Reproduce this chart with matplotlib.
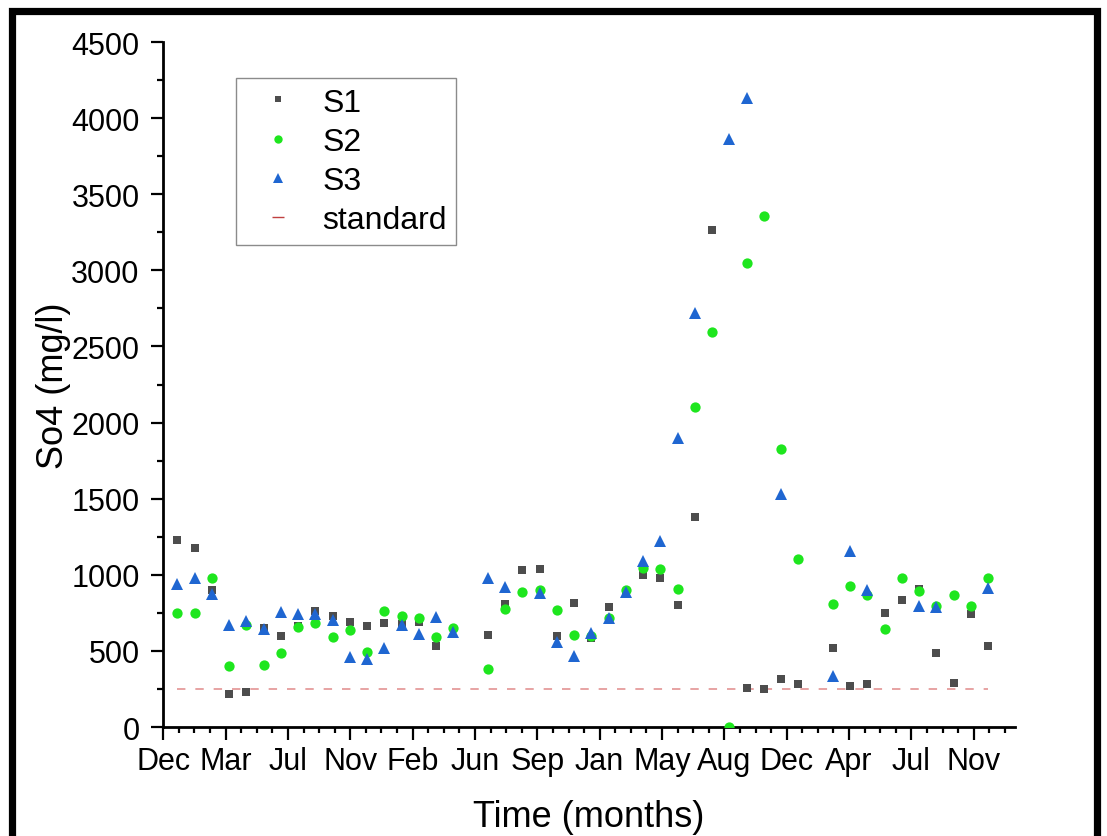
import numpy as np
import matplotlib
matplotlib.use('Agg')
import matplotlib.pyplot as plt
from matplotlib.lines import Line2D
from matplotlib.patches import Rectangle

plt.rcParams['font.family'] = ['Liberation Sans', 'DejaVu Sans']

nan = np.nan
# monthly samples, index 0 = first sample (Dec); nan = no sample / not visible
S1 = [1228, 1176, 898, 217, 228, 650, 600, 666, 764, 727, 688, 664, 681, 677, 688, 534,
      nan, nan, 604, 808, 1031, 1040, 596, 812, 585, 786, 885, 1001, 979, 800, 1380, 3263,
      nan, 256, 250, 315, 280, nan, 517, 267, 280, 751, 834, 907, 488, 291, 742, 532]
S2 = [747, 751, 979, 401, 672, 405, 484, 655, 685, 589, 639, 491, 760, 731, 714, 589,
      648, nan, 379, 777, 885, 902, 771, 602, 595, 715, 900, 1043, 1038, 907, 2105, 2593,
      0, 3050, 3357, 1824, 1104, nan, 810, 928, 867, 644, 977, 896, 797, 867, 797, 979]
S3 = [939, 979, 874, 670, 698, 644, 753, 740, 740, 703, 458, 447, 517, 670, 611, 720,
      626, nan, 979, 918, nan, 878, 556, 469, 617, 718, 885, 1093, 1222, 1897, 2720, nan,
      3863, 4130, nan, 1533, nan, nan, 337, 1158, 900, nan, nan, 797, 786, nan, nan, 911]
standard = 250
tick_labels = ['Dec', 'Mar', 'Jul', 'Nov', 'Feb', 'Jun', 'Sep', 'Jan', 'May', 'Aug',
               'Dec', 'Apr', 'Jul', 'Nov']

months = np.arange(len(S1))
tick_step = 110 / 30.44          # axis ticks every 110 days
tick0 = -0.81
xmax = 48.56
major = tick0 + tick_step * np.arange(len(tick_labels))
minor = tick0 + tick_step / 4 * np.arange(4 * len(tick_labels) + 3)
minor = minor[minor <= xmax]

fig = plt.figure(figsize=(11.07, 8.37), dpi=100)
ax = fig.add_axes([0.1475, 0.1302, 0.7694, 0.8184])

ax.plot(months, [standard] * len(months), color='#e08a8a', lw=1.1,
        dashes=(5.5, 6.5), zorder=1)
ax.plot(months, S1, 's', color='#4d4d4d', ms=6.4, mew=0, zorder=2)
ax.plot(months, S2, 'o', color='#1ee61e', ms=7.4, mew=0, zorder=3)
ax.plot(months, S3, '^', color='#1f66d1', ms=8.5, mew=0, zorder=4)

ax.set_xticks(major)
ax.set_xticklabels(tick_labels)
ax.set_xticks(minor, minor=True)
ax.set_yticks(np.arange(0, 4501, 500))
ax.set_yticks(np.arange(250, 4500, 500), minor=True)
ax.set_xlim(tick0, xmax)
ax.set_ylim(0, 4500)

for s in ['top', 'right']:
    ax.spines[s].set_visible(False)
for s in ['left', 'bottom']:
    ax.spines[s].set_linewidth(2)
ax.tick_params(which='major', direction='out', length=9, width=1.6,
               labelsize=22, pad=5)
ax.tick_params(which='minor', direction='out', length=4.5, width=1.6)
ax.tick_params(axis='y', which='major', pad=8)

ax.set_xlabel('Time (months)', fontsize=26, labelpad=16)
ax.set_ylabel('So4 (mg/l)', fontsize=26, labelpad=0)

handles = [Line2D([], [], ls='none', marker='s', color='#4d4d4d', ms=5, mew=0),
           Line2D([], [], ls='none', marker='o', color='#1ee61e', ms=6, mew=0),
           Line2D([], [], ls='none', marker='^', color='#1f66d1', ms=6.5, mew=0),
           Line2D([], [], ls='none', marker='_', color='#c04040', ms=8, mew=1)]
leg = fig.legend(handles, ['S1', 'S2', 'S3', 'standard'], loc='upper left',
                 bbox_to_anchor=(236 / 1107, 1 - 79 / 837), fontsize=23,
                 frameon=True, fancybox=False, borderpad=0.3, borderaxespad=0,
                 handlelength=2.0, handletextpad=0.4, labelspacing=0.29)
leg.get_frame().set_edgecolor('#6e6e6e')
leg.get_frame().set_linewidth(1)

# black frame around the picture
fig.patches.append(Rectangle((11.5 / 1107, -0.05), (1097 - 11.5) / 1107,
                             1.05 - 11.5 / 837, transform=fig.transFigure,
                             fill=False, edgecolor='black', lw=5.2))

fig.savefig('out.png', dpi=100)
